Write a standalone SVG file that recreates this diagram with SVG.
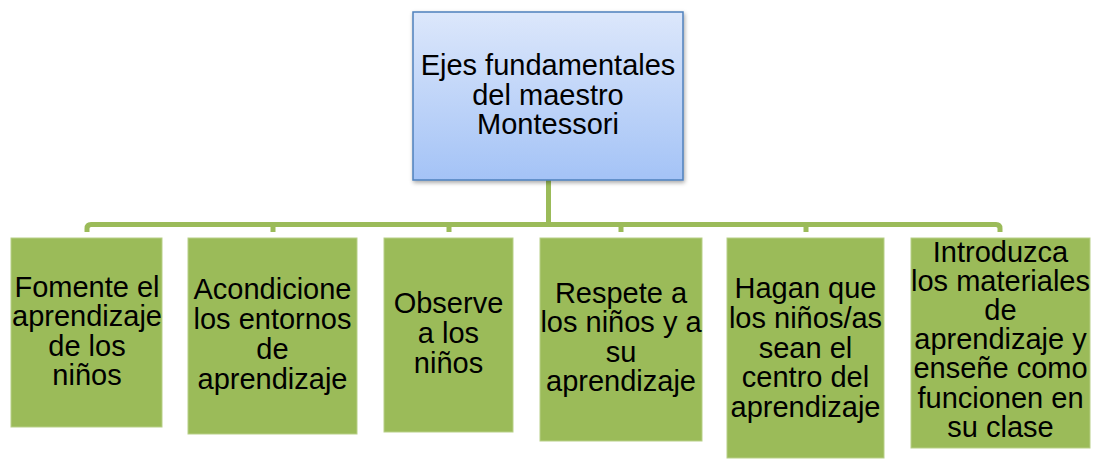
<svg xmlns="http://www.w3.org/2000/svg" width="1093" height="459" viewBox="0 0 1093 459">
<defs>
<linearGradient id="gTop" x1="0" y1="0" x2="0" y2="1">
<stop offset="0" stop-color="#dce7fb"/>
<stop offset="1" stop-color="#a4c3f6"/>
</linearGradient>
<filter id="sh" x="-10%" y="-10%" width="125%" height="125%">
<feDropShadow dx="1" dy="2" stdDeviation="2" flood-color="#000" flood-opacity="0.35"/>
</filter>
<style>
.t{font-family:"Liberation Sans",Arial,sans-serif;font-size:29px;fill:#000;text-anchor:middle}
.box{fill:#9bbb59;stroke:#b7cf87;stroke-width:1}
.con{fill:none;stroke:#9bbb59;stroke-width:5}
</style>
</defs>
<g id="connectors">
<path class="con" d="M548.5,180 V224.5"/>
<path class="con" d="M87,232 V228.5 Q87,224.5 91,224.5 H996 Q1000,224.5 1000,228.5 V232"/>
<path class="con" d="M273,224.5 V232 M449,224.5 V232 M621,224.5 V232 M806,224.5 V232"/>
</g>
<g id="root">
<rect x="413" y="12" width="270" height="168" fill="url(#gTop)" stroke="#4f81bd" stroke-width="1.5" filter="url(#sh)"/>
<text class="t" x="548" y="75">Ejes fundamentales</text>
<text class="t" x="548" y="104.5">del maestro</text>
<text class="t" x="548" y="133.5">Montessori</text>
</g>
<g id="n1">
<rect class="box" x="11" y="238" width="151" height="189"/>
<text class="t" x="87" y="296.5">Fomente el</text>
<text class="t" x="87" y="326">aprendizaje</text>
<text class="t" x="87" y="355.5">de los</text>
<text class="t" x="87" y="385">niños</text>
</g>
<g id="n2">
<rect class="box" x="188" y="238" width="169" height="196"/>
<text class="t" x="272.5" y="298.5">Acondicione</text>
<text class="t" x="272.5" y="329">los entornos</text>
<text class="t" x="272.5" y="359">de</text>
<text class="t" x="272.5" y="389">aprendizaje</text>
</g>
<g id="n3">
<rect class="box" x="384" y="238" width="129" height="194"/>
<text class="t" x="448.5" y="313">Observe</text>
<text class="t" x="448.5" y="343">a los</text>
<text class="t" x="448.5" y="373">niños</text>
</g>
<g id="n4">
<rect class="box" x="540" y="238" width="162" height="203"/>
<text class="t" x="621" y="302.5">Respete a</text>
<text class="t" x="621" y="332">los niños y a</text>
<text class="t" x="621" y="361.5">su</text>
<text class="t" x="621" y="391">aprendizaje</text>
</g>
<g id="n5">
<rect class="box" x="727" y="238" width="157" height="220"/>
<text class="t" x="805.5" y="298">Hagan que</text>
<text class="t" x="805.5" y="328">los niños/as</text>
<text class="t" x="805.5" y="357.5">sean el</text>
<text class="t" x="805.5" y="387">centro del</text>
<text class="t" x="805.5" y="416.5">aprendizaje</text>
</g>
<g id="n6">
<rect class="box" x="911" y="238" width="179" height="210"/>
<text class="t" x="1000.5" y="261.5">Introduzca</text>
<text class="t" x="1000.5" y="290.5">los materiales</text>
<text class="t" x="1000.5" y="319.5">de</text>
<text class="t" x="1000.5" y="348.5">aprendizaje y</text>
<text class="t" x="1000.5" y="378">enseñe como</text>
<text class="t" x="1000.5" y="407.5">funcionen en</text>
<text class="t" x="1000.5" y="437">su clase</text>
</g>
</svg>
